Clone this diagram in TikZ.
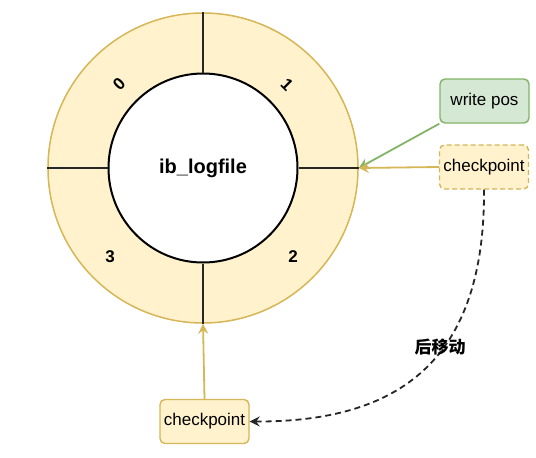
\documentclass[tikz,border=0pt]{standalone}
\usepackage{fontspec}
\setmainfont{Liberation Sans}
\newfontfamily\cjk{Noto Sans CJK SC}
\usetikzlibrary{arrows.meta}
\definecolor{ringfill}{HTML}{FFF2CC}
\definecolor{ringline}{HTML}{D6B656}
\definecolor{gfill}{HTML}{D5E8D4}
\definecolor{gline}{HTML}{82B366}
\begin{document}
\begin{tikzpicture}[x=1pt,y=-1pt,
  box/.style={rounded corners=5pt, minimum width=89pt, minimum height=44pt, inner sep=0pt, line width=1.4pt, font=\fontsize{17}{20}\selectfont},
  ybox/.style={box, fill=ringfill, draw=ringline},
  gbox/.style={box, fill=gfill, draw=gline},
  digit/.style={font=\fontsize{17}{20}\selectfont\bfseries},
  spoke/.style={line width=1.9pt, black!85},
  arr/.style={line width=1.8pt, -{Stealth[length=10pt,width=10pt,inset=3.5pt]}}
]
\useasboundingbox (0,0) rectangle (536,458);
\node[circle, fill=ringfill, draw=ringline, line width=1.5pt, minimum size=310pt, inner sep=0pt] (ring) at (203,168) {};
\node[circle, fill=white, draw=black, line width=2pt, minimum size=189pt, inner sep=0pt, font=\fontsize{20}{24}\selectfont\bfseries] (core) at (203,168) {ib\_logfile};
\draw[spoke] (ring.north) -- (core.north);
\draw[spoke] (ring.south) -- (core.south);
\draw[spoke] (ring.west) -- (core.west);
\draw[spoke] (ring.east) -- (core.east);
\node[digit, rotate=45] (d0) at (119,84) {0};
\node[digit, rotate=-45] (d1) at (287,85) {1};
\node[digit] (d2) at (293,257) {2};
\node[digit] (d3) at (110,257) {3};
\node[gbox] (wp) at (484.5,101) {write pos};
\node[ybox, dashed, dash pattern=on 5pt off 3pt] (cp1) at (484,167) {checkpoint};
\node[ybox] (cp2) at (204.5,421.5) {checkpoint};
\draw[arr, gline] (wp.south west) -- (ring.east);
\draw[arr, ringline] (cp1.west) -- (ring.east);
\draw[arr, ringline] (cp2.north) -- (ring.south);
\draw[arr, black!85, dash pattern=on 6pt off 4pt] (cp1.south) .. controls (485,360) and (400,422) .. (cp2.east);
\node[font=\cjk\fontsize{17}{20}\selectfont\bfseries] (lbl) at (440,347) {后移动};
\end{tikzpicture}
\end{document}
